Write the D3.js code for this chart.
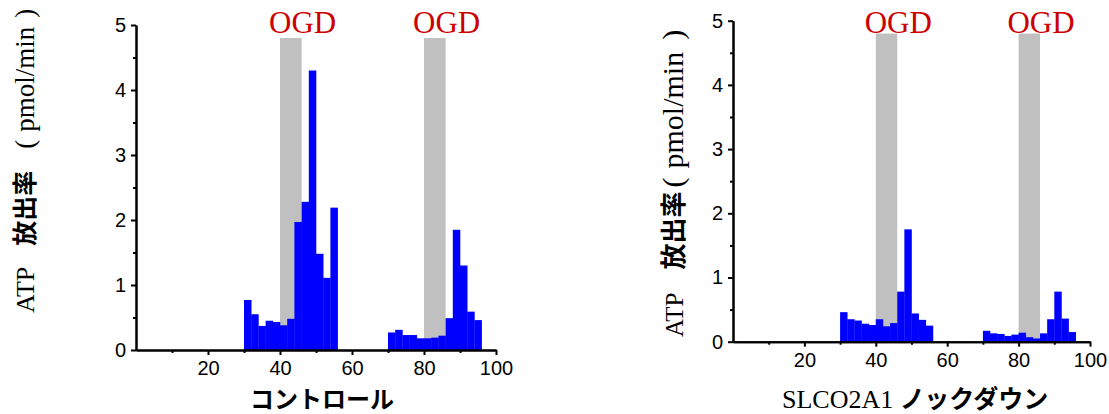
<!DOCTYPE html>
<html>
<head>
<meta charset="utf-8">
<script src="https://cdn.jsdelivr.net/npm/d3@7"></script>
<style>
  body { margin: 0; background: #fff; }
  svg { display: block; }
</style>
</head>
<body>
<div id="chart"></div>
<script>
// bin start times (min), each bin is 2 min wide
var times1 = [30, 32, 34, 36, 38, 40, 42, 44, 46, 48, 50, 52, 54]
var times2 = [70, 72, 74, 76, 78, 80, 82, 84, 86, 88, 90, 92, 94]
var binWidth = 2

// ATP release rate (pmol/min)
var controlRate1 = [0.77, 0.55, 0.37, 0.45, 0.43, 0.38, 0.48, 1.97, 2.28, 4.30, 1.48, 1.11, 2.19]
var controlRate2 = [0.27, 0.31, 0.23, 0.23, 0.18, 0.18, 0.19, 0.22, 0.49, 1.85, 1.30, 0.59, 0.46]
var knockdownRate1 = [0.46, 0.35, 0.33, 0.28, 0.26, 0.35, 0.24, 0.29, 0.78, 1.75, 0.44, 0.34, 0.25]
var knockdownRate2 = [0.17, 0.13, 0.12, 0.09, 0.11, 0.14, 0.07, 0.05, 0.13, 0.35, 0.78, 0.36, 0.15]

var ogdStart = [40, 80]
var ogdEnd = [46, 86]
var ogdTop = 4.8

var xMajor = [20, 40, 60, 80, 100]
var xMinor = [10, 30, 50, 70, 90]
var yMajor = [0, 1, 2, 3, 4, 5]
var yMinor = [0.5, 1.5, 2.5, 3.5, 4.5]

var width = 1109
var height = 414

var svg = d3.select("#chart").append("svg")
  .attr("width", width)
  .attr("height", height)

var panels = [
  { left: 136, right: 496, top: 25, bottom: 350,
    rates: controlRate1.concat(controlRate2),
    yl: { x: 34, y: 313, atp: 26, kanji: 25, unit: 27, gap1: 21, gap2: 22, gap3: 8, gap4: 9 },
    xl: { cx: 322, y: 408, pre: "", main: "コントロール" } },
  { left: 733, right: 1090, top: 20.7, bottom: 341.7,
    rates: knockdownRate1.concat(knockdownRate2),
    yl: { x: 683, y: 337, atp: 25, kanji: 26, unit: 30, gap1: 23, gap2: 4, gap3: 9, gap4: 12 },
    xl: { start: 782, y: 408, pre: "SLCO2A1 ", main: "ノックダウン" } }
]

var allTimes = times1.concat(times2)

panels.forEach(function(p) {
  var x = d3.scaleLinear().domain([0, 100]).range([p.left, p.right])
  var y = d3.scaleLinear().domain([0, 5]).range([p.bottom, p.top])

  var g = svg.append("g")

  // OGD windows
  g.selectAll(".ogd")
    .data(ogdStart)
    .enter().append("rect")
    .attr("x", function(d) { return x(d) })
    .attr("width", function(d, i) { return x(ogdEnd[i]) - x(d) })
    .attr("y", y(ogdTop))
    .attr("height", y(0) - y(ogdTop))
    .attr("fill", "#c0c0c0")

  g.selectAll(".ogdlabel")
    .data(ogdEnd)
    .enter().append("text")
    .attr("x", function(d) { return x(d) + 1 })
    .attr("y", 33)
    .attr("text-anchor", "middle")
    .style("font-family", "'Liberation Serif', 'Times New Roman', serif")
    .style("font-size", "31px")
    .attr("fill", "#cc0000")
    .text("OGD")

  // bars
  g.selectAll(".bar")
    .data(p.rates)
    .enter().append("rect")
    .attr("x", function(d, i) { return x(allTimes[i]) })
    .attr("width", function(d, i) { return x(allTimes[i] + binWidth) - x(allTimes[i]) + 0.3 })
    .attr("y", function(d) { return y(d) })
    .attr("height", function(d) { return y(0) - y(d) })
    .attr("fill", "#0000ff")

  // axes
  var xMin = g.append("g")
    .attr("transform", "translate(0," + p.bottom + ")")
    .call(d3.axisBottom(x).tickValues(xMinor).tickSize(3).tickSizeOuter(0).tickFormat(""))
  var xAx = g.append("g")
    .attr("transform", "translate(0," + p.bottom + ")")
    .call(d3.axisBottom(x).tickValues(xMajor).tickSize(5).tickSizeOuter(0).tickPadding(6))
  var yMin = g.append("g")
    .attr("transform", "translate(" + p.left + ",0)")
    .call(d3.axisLeft(y).tickValues(yMinor).tickSize(3).tickSizeOuter(0).tickFormat(""))
  var yAx = g.append("g")
    .attr("transform", "translate(" + p.left + ",0)")
    .call(d3.axisLeft(y).tickValues(yMajor).tickSize(5).tickSizeOuter(0).tickPadding(5)
      .tickFormat(d3.format("d")))

  ;[xMin, xAx, yMin, yAx].forEach(function(a) {
    a.selectAll("path,line").attr("stroke", "#000").attr("stroke-width", 2)
    a.selectAll("text")
      .attr("fill", "#000")
      .style("font-family", "'Liberation Sans', Arial, sans-serif")
      .style("font-size", "20px")
  })

  // y label
  var yl = g.append("text")
    .attr("transform", "translate(" + p.yl.x + "," + p.yl.y + ") rotate(-90)")
    .attr("text-anchor", "start")
    .style("font-size", p.yl.atp + "px")
  yl.append("tspan")
    .style("font-family", "'Liberation Serif', serif")
    .style("font-size", p.yl.atp + "px")
    .text("ATP")
  yl.append("tspan")
    .attr("dx", p.yl.gap1)
    .style("font-family", "'Noto Sans CJK JP', sans-serif")
    .style("font-weight", "bold")
    .style("font-size", p.yl.kanji + "px")
    .text("放出率")
  yl.append("tspan")
    .attr("dx", p.yl.gap2)
    .style("font-family", "'Liberation Serif', serif")
    .style("font-size", p.yl.unit + "px")
    .text("(")
  yl.append("tspan")
    .attr("dx", p.yl.gap3)
    .style("font-family", "'Liberation Serif', serif")
    .style("font-size", p.yl.unit + "px")
    .text("pmol/min")
  yl.append("tspan")
    .attr("dx", p.yl.gap4)
    .style("font-family", "'Liberation Serif', serif")
    .style("font-size", p.yl.unit + "px")
    .text(")")

  // x label
  var xl = g.append("text")
    .attr("y", p.xl.y)
  if (p.xl.pre) {
    xl.attr("x", p.xl.start).attr("text-anchor", "start")
    xl.append("tspan")
      .style("font-family", "'Liberation Serif', serif")
      .style("font-size", "26px")
      .text(p.xl.pre)
  } else {
    xl.attr("x", p.xl.cx).attr("text-anchor", "middle")
  }
  xl.append("tspan")
    .style("font-family", "'Noto Sans CJK JP', sans-serif")
    .style("font-weight", "bold")
    .style("font-size", p.xl.pre ? "25px" : "24px")
    .text(p.xl.main)
})
</script>
</body>
</html>
